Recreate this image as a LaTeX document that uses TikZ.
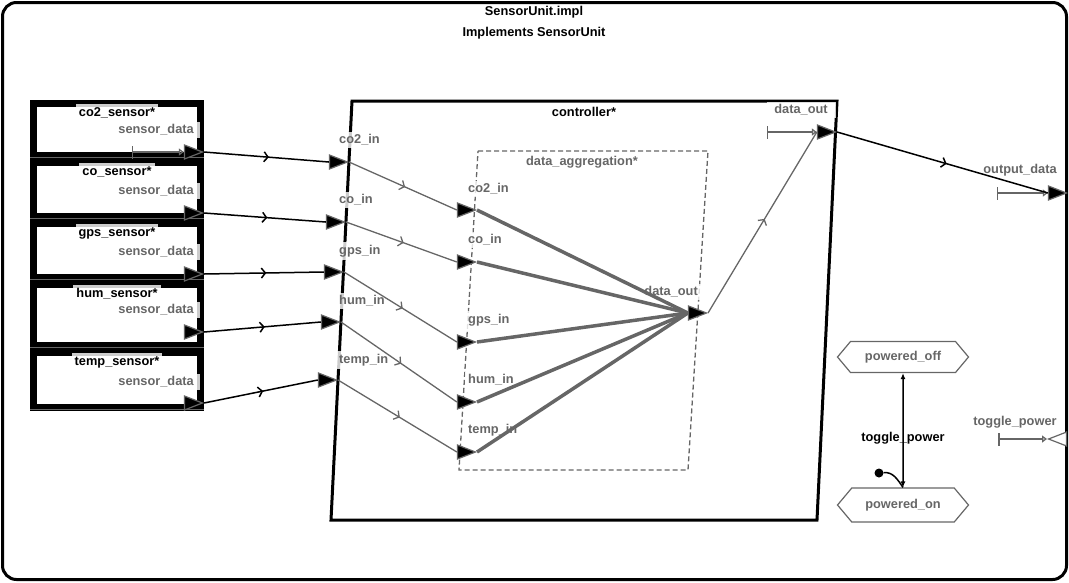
\documentclass[tikz,border=0pt]{standalone}
\usepackage{fontspec}
\setmainfont{Liberation Sans}
\usetikzlibrary{shapes.geometric,shapes.symbols,arrows.meta,decorations.markings}

\definecolor{portgray}{HTML}{666666}

\begin{document}
\begin{tikzpicture}[x=1pt,y=-1pt,
    every node/.style={font=\fontsize{12.8}{14}\selectfont\bfseries},
    lbl/.style={fill=white,fill opacity=0.8,text opacity=1,inner sep=3pt},
    port/.style={isosceles triangle,isosceles triangle stretches,
                 minimum width=14pt,minimum height=18pt,inner sep=0pt,
                 fill=black,draw=portgray,line width=1.2pt},
    sensorbox/.style={draw=black,fill=white,line width=7pt,minimum width=167pt,inner sep=0pt},
    midarrow/.style={postaction={decorate},decoration={markings,
                 mark=at position 0.52 with {\arrow{Straight Barb[length=4pt,width=10pt]}}}},
    sysline/.style={draw=black,line width=1.5pt},
    inline/.style={draw=portgray,line width=1.3pt},
    aggline/.style={draw=portgray,line width=3.5pt},
    feat/.style={draw=portgray,line width=1.5pt,
                 {Bar[width=13pt]}-{Triangle[open,length=5pt,width=7pt]}},
    stbox/.style={signal,signal to=west and east,signal pointer angle=100,
                 draw=portgray,line width=1.2pt,text=portgray,
                 minimum width=131pt,minimum height=31pt,inner sep=2pt}]

  \useasboundingbox (0,0) rectangle (1069,582);

  % system frame
  \draw[line width=3pt,rounded corners=14pt] (2.5,2.5) rectangle (1066.5,579.5);
  \node (sysT) at (534,12) {SensorUnit.impl};
  \node (sysI) at (534,33) {Implements SensorUnit};

  % sensors
  \foreach \nm/\ya/\yb/\dy/\py in {co2/100/159/130/152,co/159/220/191/213,
      gps/220/281/252/274,hum/281/349/310/332,temp/349/411/382/403}
  {
    \node[sensorbox,minimum height={\yb-\ya-7}] (\nm) at (117,{(\ya+\yb)/2}) {};
    \node[lbl,anchor=north] (\nm T) at (117,\ya+4) {\nm\_sensor*};
    \node[lbl,text=portgray,anchor=east,inner xsep=6pt] at (200,\dy) {sensor\_data};
  }
  \foreach \nm/\py in {co2/152,co/213,gps/274,hum/332,temp/403}
  {
    \draw[portgray,line width=1pt] ([yshift=1.5pt]\nm.south west) -- ([yshift=1.5pt]\nm.south east);
    \node[port,anchor=apex] (\nm S) at (204,\py) {};
  }
  \draw[feat] ([xshift=-52pt]co2S.west) -- (co2S.west);

  % controller
  \draw[line width=3pt] (352,101) -- (837,101) -- (817,520) -- (331,520) -- cycle;
  \node (ctrlT) at (584,112) {controller*};
  \draw[portgray,line width=1.3pt,dash pattern=on 5pt off 3pt]
     (478,151) -- (708,151) -- (688,470) -- (459,470) -- cycle;
  \node[text=portgray] (daggT) at (582,162) {data\_aggregation*};

  \foreach \nm/\x/\y/\ly in {co2/349/162/140,co/346/222/200,gps/344/272/251,
      hum/341/322/301,temp/338/380/360}
  {
    \node[lbl,text=portgray,anchor=west] at (336,\ly) {\nm\_in};
    \node[port,anchor=apex] (\nm C) at (\x,\y) {};
  }
  \foreach \nm/\y/\ly in {co2/210/189,co/262/240,gps/342/320,hum/402/380,temp/452/430}
  {
    \node[lbl,text=portgray,anchor=west] at (465,\ly) {\nm\_in};
    \node[port,anchor=apex] (\nm D) at (477,\y) {};
  }

  \node[lbl,text=portgray,anchor=east] at (701,292) {data\_out};
  \node[port,anchor=apex] (dOut) at (708,313) {};
  \node[lbl,text=portgray,minimum width=69pt] at (801,110) {data\_out};
  \node[port,anchor=apex] (cOut) at (837,132) {};
  \draw[feat] ([xshift=-50pt]cOut.west) -- (cOut.west);

  % system ports
  \node[lbl,text=portgray] at (1020,170) {output\_data};
  \node[port,anchor=apex] (outData) at (1068,193) {};
  \draw[feat] ([xshift=-51pt]outData.west) -- (outData.west);
  \node[lbl,text=portgray] at (1015,422) {toggle\_power};
  \node[port,fill=white,shape border rotate=180,anchor=apex] (tog) at (1047,439) {};
  \draw[feat] ([xshift=-49pt]tog.apex) -- (tog.apex);

  % connections
  \foreach \nm in {co2,co,gps,hum,temp}
  {
    \draw[sysline,midarrow] (\nm S.apex) -- (\nm C.west);
    \draw[inline,midarrow] (\nm C.apex) -- (\nm D.west);
    \draw[aggline] (\nm D.apex) -- (dOut.west);
  }
  \draw[inline,midarrow] (dOut.apex) -- (cOut.west);
  \draw[sysline,midarrow] (cOut.apex) -- (outData.west);

  % modes
  \node[stbox] (off) at (903,357) {powered\_off};
  \node[stbox,minimum height=34pt] (on) at (903,505) {powered\_on};
  \draw[line width=1.5pt,{Latex[length=6pt,width=5pt]}-{Latex[length=6pt,width=5pt]}]
     (off) -- node[pos=0.57] {toggle\_power} (on);
  \node[circle,fill=black,inner sep=0pt,minimum size=9pt] (init) at (879,473) {};
  \draw[line width=1.5pt] (init) to[out=5,in=125] (on.north);

\end{tikzpicture}
\end{document}
